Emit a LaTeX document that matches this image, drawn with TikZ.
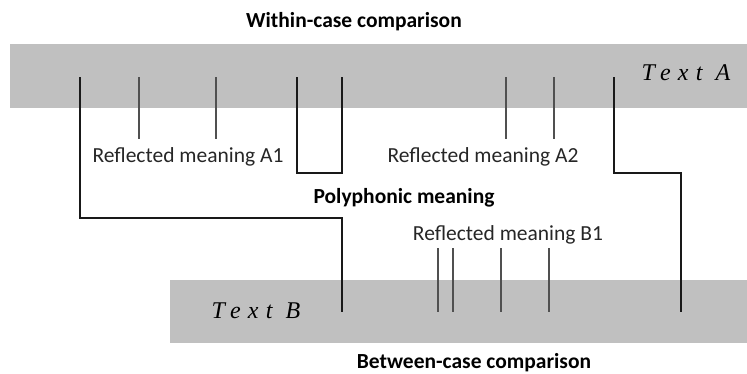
\documentclass[tikz,border=0pt]{standalone}
\usepackage{fontspec}
\setmainfont{Carlito}
\newfontfamily\handfont[LetterSpace=30]{Liberation Serif}
\definecolor{bandgray}{RGB}{192,192,192}
\definecolor{tickgray}{RGB}{80,80,80}

\begin{document}
\begin{tikzpicture}[x=1pt,y=-1pt,
  bandbox/.style={fill=bandgray, draw=none, inner sep=0pt},
  meaningtext/.style={font=\fontsize{21.5}{24}\selectfont, text=black!85, inner sep=0pt},
  headtext/.style={font=\fontsize{21.5}{24}\selectfont\bfseries, inner sep=0pt},
  handtext/.style={font=\fontsize{24}{28}\selectfont\handfont\itshape, inner sep=0pt},
  thickline/.style={line width=2.6pt, black!90},
  thinline/.style={line width=1.1pt, tickgray}]
  \useasboundingbox (0,0) rectangle (747,373);

  \node[bandbox, minimum width=737pt, minimum height=64pt] (bandA) at (378.5,76) {};
  \node[bandbox, minimum width=577pt, minimum height=63pt] (bandB) at (458.5,311.5) {};

  \node[headtext] (within) at (354,22) {Within-case comparison};
  \node[headtext] (poly) at (404,198) {Polyphonic meaning};
  \node[headtext] (between) at (474,363) {Between-case comparison};
  \node[meaningtext] (A1) at (188,157) {Reflected meaning A1};
  \node[meaningtext] (A2) at (483,157) {Reflected meaning A2};
  \node[meaningtext] (B1) at (508,235) {Reflected meaning B1};
  \node[handtext] (textA) at (686,73) {Text A};
  \node[handtext] (textB) at (256,311) {Text B};

  \coordinate (a1) at (80,77);
  \coordinate (a2) at (80,218);
  \coordinate (a3) at (342,218);
  \coordinate (a4) at (342,312);
  \coordinate (u1) at (297,77);
  \coordinate (u2) at (297,173);
  \coordinate (u3) at (342,173);
  \coordinate (u4) at (342,77);
  \coordinate (r1) at (614,77);
  \coordinate (r2) at (614,173);
  \coordinate (r3) at (681,173);
  \coordinate (r4) at (681,312);

  \draw[thickline] (a1) -- (a2) -- (a3) -- (a4);
  \draw[thickline] (u1) -- (u2) -- (u3) -- (u4);
  \draw[thickline] (r1) -- (r2) -- (r3) -- (r4);

  \foreach \x [count=\i] in {139,216,506,554} {
    \coordinate (ta\i) at (\x,77);
    \coordinate (tb\i) at (\x,139);
    \draw[thinline] (ta\i) -- (tb\i);
  }
  \foreach \x [count=\i] in {438,453,501,549} {
    \coordinate (ba\i) at (\x,248);
    \coordinate (bb\i) at (\x,312);
    \draw[thinline] (ba\i) -- (bb\i);
  }
\end{tikzpicture}
\end{document}
